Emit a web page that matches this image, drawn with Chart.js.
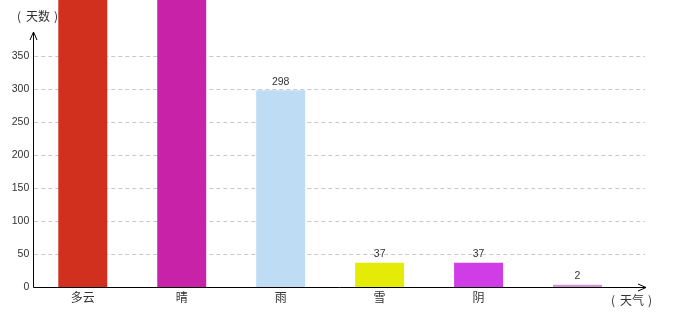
<!DOCTYPE html>
<html>
<head>
<meta charset="utf-8">
<script src="https://cdn.jsdelivr.net/npm/chart.js@4.4.0/dist/chart.umd.min.js"></script>
<style>
  html, body { margin: 0; padding: 0; background: #fff; }
  #wrap { width: 680px; height: 320px; }
</style>
</head>
<body>
<div id="wrap"><canvas id="weatherChart" width="680" height="320"></canvas></div>
<script>
// категории погоды и количество дней
const weatherLabels = ['多云', '晴', '雨', '雪', '阴', ''];
const dayCounts = [612, 521, 298, 37, 37, 2];
const barColors = ['#D1301E', '#C822A9', '#BEDDF4', '#E3EB06', '#D03CE6', '#CF96CF'];
const yTickValues = [0, 50, 100, 150, 200, 250, 300, 350];

const yTitle = '天数';
const xTitle = '天气';
const cjkFont = '"Noto Sans CJK SC", sans-serif';
const numFont = '"Liberation Sans", Arial, sans-serif';

// подпись в скобках с широкими отступами, как в оригинале
function drawTitle(ctx, text, left, cy) {
  ctx.textBaseline = 'middle';
  ctx.textAlign = 'center';
  ctx.font = '12px ' + cjkFont;
  ctx.fillText('(', left + 5, cy);
  ctx.textAlign = 'left';
  ctx.fillText(text, left + 12, cy);
  ctx.textAlign = 'center';
  ctx.fillText(')', left + 12 + ctx.measureText(text).width + 6, cy);
}

// оси со стрелками, пунктирная сетка и подписи значений
const axesPlugin = {
  id: 'axesPlugin',
  beforeDatasetsDraw(chart) {
    const ctx = chart.ctx;
    const y = chart.scales.y;
    const area = chart.chartArea;
    ctx.save();
    ctx.strokeStyle = '#c8c8c8';
    ctx.lineWidth = 1;
    ctx.setLineDash([4, 3]);
    yTickValues.forEach(v => {
      if (v === 0) return;
      const py = Math.round(y.getPixelForValue(v)) + 0.5;
      ctx.beginPath();
      ctx.moveTo(area.left + 1, py);
      ctx.lineTo(645, py);
      ctx.stroke();
    });
    ctx.setLineDash([]);
    // заголовок оси Y (под столбцами)
    ctx.fillStyle = '#333';
    drawTitle(ctx, yTitle, 14, 16);
    ctx.restore();
  },
  afterDatasetsDraw(chart) {
    const ctx = chart.ctx;
    const area = chart.chartArea;
    const x0 = Math.round(area.left) + 0.5;
    const y0 = Math.round(chart.scales.y.getPixelForValue(0)) + 0.5;
    ctx.save();
    ctx.strokeStyle = '#000';
    ctx.lineWidth = 1;
    ctx.beginPath();
    ctx.moveTo(x0, y0);
    ctx.lineTo(x0, 32);
    ctx.moveTo(x0 - 3.5, 40);
    ctx.lineTo(x0, 32);
    ctx.lineTo(x0 + 3.5, 40);
    ctx.moveTo(x0, y0);
    ctx.lineTo(646, y0);
    ctx.moveTo(638, y0 - 3.5);
    ctx.lineTo(646, y0);
    ctx.lineTo(638, y0 + 3.5);
    ctx.stroke();

    // подписи значений над столбцами
    ctx.fillStyle = '#333';
    ctx.font = '10.5px ' + numFont;
    ctx.textAlign = 'center';
    ctx.textBaseline = 'bottom';
    chart.getDatasetMeta(0).data.forEach((bar, i) => {
      ctx.fillText(String(dayCounts[i]), bar.x, bar.y - 3);
    });

    drawTitle(ctx, xTitle, 608, 300);
    ctx.restore();
  }
};

const chart = new Chart(document.getElementById('weatherChart'), {
  type: 'bar',
  data: {
    labels: weatherLabels,
    datasets: [{
      data: dayCounts,
      backgroundColor: barColors,
      borderWidth: 0,
      categoryPercentage: 1,
      barPercentage: 0.495,
      minBarLength: 2.5,
      clip: false
    }]
  },
  options: {
    responsive: false,
    animation: false,
    events: [],
    layout: { padding: { top: 32, right: 53, left: 0, bottom: 0 } },
    plugins: { legend: { display: false }, tooltip: { enabled: false } },
    scales: {
      x: {
        grid: { display: false, drawTicks: false },
        border: { display: false },
        ticks: {
          color: '#333',
          font: { family: cjkFont, size: 12 },
          padding: 3,
          maxRotation: 0,
          autoSkip: false
        },
        afterFit(scale) { scale.height = 32.7; }
      },
      y: {
        min: 0,
        max: 386,
        grid: { display: false, drawTicks: false },
        border: { display: false },
        afterBuildTicks(scale) {
          scale.ticks = yTickValues.map(v => ({ value: v }));
        },
        ticks: {
          color: '#333',
          font: { family: numFont, size: 10.5 },
          padding: 4
        },
        afterFit(scale) { scale.width = 33.3; }
      }
    }
  },
  plugins: [axesPlugin]
});
</script>
</body>
</html>
